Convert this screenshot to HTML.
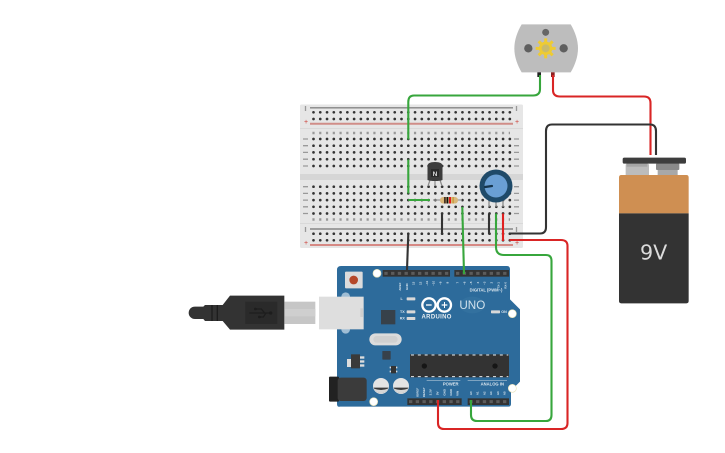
<!DOCTYPE html>
<html><head><meta charset="utf-8"><style>
html,body{margin:0;padding:0;background:#fff;width:725px;height:453px;overflow:hidden}
svg{display:block}
text{font-family:"Liberation Sans",sans-serif}
</style></head><body>
<svg width="725" height="453" viewBox="0 0 725 453" xmlns="http://www.w3.org/2000/svg">
<!-- Breadboard -->
<rect x="300" y="104.500" width="223" height="143.500" rx="1.500" fill="#e6e6e6"/>
<rect x="300" y="128" width="223" height="1" fill="#d9d9d9"/>
<rect x="300" y="223" width="223" height="1" fill="#d9d9d9"/>
<rect x="300" y="174" width="223" height="6" fill="#d6d6d6"/>
<line x1="310" y1="107.800" x2="513" y2="107.800" stroke="#858585" stroke-width="1.400"/>
<line x1="310" y1="123.800" x2="513" y2="123.800" stroke="#d08d88" stroke-width="2"/>
<line x1="310" y1="229" x2="513" y2="229" stroke="#858585" stroke-width="1.400"/>
<line x1="310" y1="245" x2="513" y2="245" stroke="#d06a64" stroke-width="1.400"/>
<g stroke="#333" stroke-width="2.700" stroke-linecap="round" fill="none" stroke-dasharray="0 6.770">
<line x1="313.500" y1="112.300" x2="510" y2="112.300"/>
<line x1="313.500" y1="119" x2="510" y2="119"/>
<line x1="313.500" y1="233.700" x2="510" y2="233.700"/>
<line x1="313.500" y1="240.300" x2="510" y2="240.300"/>
<line x1="313.500" y1="139" x2="510" y2="139"/>
<line x1="313.500" y1="145.700" x2="510" y2="145.700"/>
<line x1="313.500" y1="152.400" x2="510" y2="152.400"/>
<line x1="313.500" y1="159.200" x2="510" y2="159.200"/>
<line x1="313.500" y1="166" x2="510" y2="166"/>
<line x1="313.500" y1="186.700" x2="510" y2="186.700"/>
<line x1="313.500" y1="193.400" x2="510" y2="193.400"/>
<line x1="313.500" y1="200.100" x2="510" y2="200.100"/>
<line x1="313.500" y1="206.800" x2="510" y2="206.800"/>
<line x1="313.500" y1="213.500" x2="510" y2="213.500"/>
</g>
<!-- column / row tick labels -->
<g stroke="#999" stroke-width="2.600" fill="none" stroke-dasharray="2.200 4.570">
<line x1="312.400" y1="133" x2="510" y2="133"/>
<line x1="312.400" y1="219.500" x2="510" y2="219.500"/>
</g>
<g stroke="#999" stroke-width="1.300" fill="none">
<path d="M303 139H308M303 145.700H308M303 152.400H308M303 159.200H308M303 166H308M303 186.700H308M303 193.400H308M303 200.100H308M303 206.800H308M303 213.500H308"/>
<path d="M514 139H519M514 145.700H519M514 152.400H519M514 159.200H519M514 166H519M514 186.700H519M514 193.400H519M514 200.100H519M514 206.800H519M514 213.500H519"/>
<path d="M305.500 106V111M305.500 227V232M516.500 106V111M516.500 227V232"/>
</g>
<g fill="#cc3a33" font-size="7" text-anchor="middle">
<text x="306" y="124">+</text><text x="306" y="245">+</text><text x="517" y="124">+</text><text x="517" y="245">+</text>
</g>

<!-- Motor -->
<g transform="translate(505,15) scale(.33333)">
<path d="M50 28H197C210 50 219 75 219 100C219 125 210 150 197 172H50C37 150 28 125 28 100C28 75 37 50 50 28Z" fill="#bdbdbd"/>
<circle cx="70" cy="100" r="12.500" fill="#5f5f5f"/>
<circle cx="176" cy="100" r="12.500" fill="#5f5f5f"/>
<circle cx="122" cy="52" r="10.500" fill="#666"/>
<circle cx="122" cy="100" r="20" fill="#eecb33"/>
<g stroke="#eecb33" stroke-width="9">
<line x1="122" y1="70" x2="122" y2="130"/><line x1="92" y1="100" x2="152" y2="100"/>
<line x1="101" y1="79" x2="143" y2="121"/><line x1="143" y1="79" x2="101" y2="121"/>
</g>
<circle cx="122" cy="100" r="12" fill="#c9bb6c"/>
<rect x="97" y="172" width="11" height="14" fill="#222"/>
<rect x="138" y="172" width="11" height="14" fill="#8d2020"/>
</g>

<!-- Battery -->
<g transform="translate(610,145) scale(.33333)">
<rect x="47" y="55" width="70" height="40" rx="6" fill="#bcbcbc"/>
<rect x="50" y="55" width="62" height="10" fill="#a5a5a5"/>
<rect x="138" y="55" width="70" height="20" rx="3" fill="#8a8a8a"/>
<rect x="143" y="75" width="60" height="20" fill="#a8a8a8"/>
<rect x="38" y="38" width="190" height="18" rx="5" fill="#3d3d3d"/>
<path d="M27 205V97Q27 90 34 90H229Q236 90 236 97V205Z" fill="#cf8f52"/>
<path d="M27 205H236V468Q236 475 229 475H34Q27 475 27 468Z" fill="#333"/>
<text x="131" y="343" font-size="62" text-anchor="middle" fill="#dcdcdc" style="font-family:'DejaVu Sans',sans-serif">9V</text>
</g>

<!-- USB cable -->
<g transform="translate(180,285) scale(.33333)">
<rect x="313" y="50" width="93" height="67" fill="#c6c6c6"/>
<rect x="313" y="72" width="93" height="22" fill="#cfcfcf"/>
<path d="M45 65H70L75 60H128L150 32H313V134H150L128 108H75L70 102H45C33 102 26 92 26 84C26 74 33 65 45 65Z" fill="#333"/>
<rect x="196" y="50" width="96" height="67" fill="#2a2a2a"/>
<g stroke="#1d1d1d" stroke-width="4" fill="none">
<path d="M96 60V108M112 60V108"/>
<path d="M208 84H272M226 72H244L254 84M238 96H250L258 84"/>
</g>
<circle cx="272" cy="84" r="5" fill="#1d1d1d"/><circle cx="226" cy="72" r="4" fill="#1d1d1d"/><circle cx="238" cy="96" r="4" fill="#1d1d1d"/>
</g>

<!-- Arduino -->
<g transform="translate(325,260) scale(.33333)">
<path d="M36 30Q36 18 48 18H545Q555 18 555 28V118L585 148V365L558 392V432Q558 440 550 440H45Q36 442 36 432Z" fill="#2d6b9b"/>
<circle cx="156" cy="40" r="12" fill="#fff" stroke="#e8e2b8" stroke-width="2"/>
<circle cx="562" cy="161" r="12" fill="#fff" stroke="#e8e2b8" stroke-width="2"/>
<circle cx="562" cy="385" r="12" fill="#fff" stroke="#e8e2b8" stroke-width="2"/>
<circle cx="146" cy="425" r="12" fill="#fff" stroke="#e8e2b8" stroke-width="2"/>
<!-- headers -->
<g fill="#333">
<rect x="173" y="30" width="202" height="20"/>
<rect x="388" y="30" width="164" height="20"/>
<rect x="247" y="415" width="163" height="20"/>
<rect x="428" y="415" width="124" height="20"/>
</g>
<g stroke="#5c5c5c" stroke-width="9" fill="none" stroke-dasharray="10 10.200">
<line x1="178" y1="40" x2="375" y2="40"/>
<line x1="393" y1="40" x2="552" y2="40"/>
<line x1="252" y1="425" x2="410" y2="425"/>
<line x1="433" y1="425" x2="552" y2="425"/>
</g>
<!-- reset -->
<rect x="60" y="35" width="53" height="50" rx="3" fill="#dcdcdc"/>
<circle cx="86" cy="60" r="13" fill="#b5482a"/>
<!-- usb socket -->
<circle cx="62" cy="110" r="13" fill="#9fbdd4"/>
<circle cx="62" cy="208" r="13" fill="#9fbdd4"/>
<rect x="-18" y="110" width="134" height="98" fill="#dedede"/>
<rect x="106" y="145" width="8" height="26" fill="#cfcfcf"/>
<!-- logic parts -->
<rect x="168" y="150" width="43" height="43" fill="#37414a"/>
<rect x="133" y="220" width="97" height="36" rx="18" fill="#dcdcdc"/>
<rect x="145" y="228" width="73" height="20" rx="10" fill="#d0d0d0"/>
<rect x="172" y="273" width="25" height="26" rx="2" fill="#37414a"/>
<rect x="78" y="283" width="27" height="42" fill="#3a3a3a"/>
<rect x="66" y="297" width="12" height="24" fill="#ddd"/>
<g fill="#ddd"><rect x="105" y="289" width="13" height="7"/><rect x="105" y="301" width="13" height="7"/><rect x="105" y="313" width="13" height="7"/></g>
<rect x="198" y="318" width="15" height="22" fill="#333"/>
<g fill="#ddd"><rect x="194" y="320" width="4" height="5"/><rect x="194" y="332" width="4" height="5"/><rect x="213" y="320" width="4" height="5"/><rect x="213" y="332" width="4" height="5"/></g>
<!-- chip -->
<rect x="255" y="283" width="297" height="69" fill="#333"/>
<line x1="258" y1="285" x2="550" y2="285" stroke="#e8e8e8" stroke-width="3" stroke-dasharray="9 11.500"/>
<line x1="258" y1="350" x2="550" y2="350" stroke="#e8e8e8" stroke-width="3" stroke-dasharray="9 11.500"/>
<circle cx="298" cy="318" r="8" fill="#161616"/>
<circle cx="510" cy="318" r="8" fill="#161616"/>
<!-- caps -->
<circle cx="168" cy="378" r="24" fill="#e4e4e4"/>
<path d="M146 383A23 23 0 0 0 190 383Z" fill="#3a3a3a"/>
<path d="M147 386A23 23 0 0 0 189 386Q168 394 147 386Z" fill="#d6d6d6"/>
<circle cx="228" cy="378" r="24" fill="#e4e4e4"/>
<path d="M206 383A23 23 0 0 0 250 383Z" fill="#3a3a3a"/>
<path d="M207 386A23 23 0 0 0 249 386Q228 394 207 386Z" fill="#d6d6d6"/>
<!-- jack -->
<rect x="12" y="350" width="30" height="75" rx="3" fill="#222"/>
<rect x="38" y="353" width="87" height="70" rx="9" fill="#3b3b3b"/>
<!-- LEDs -->
<g fill="#d8d8d8">
<rect x="245" y="112" width="26" height="9" rx="2"/>
<rect x="245" y="151" width="26" height="9" rx="2"/>
<rect x="245" y="171" width="26" height="9" rx="2"/>
<rect x="498" y="151" width="27" height="9" rx="2"/>
</g>
<!-- Logo -->
<ellipse cx="442" cy="135" rx="38" ry="25" fill="#33719f"/>
<g fill="none" stroke="#fff" stroke-width="7">
<circle cx="312" cy="135" r="20"/><circle cx="358" cy="135" r="20"/>
</g>
<rect x="303" y="133" width="17" height="4" fill="#fff"/>
<path d="M350 133H357V126H360V133H367V137H360V144H357V137H350Z" fill="#fff"/>
<text x="335" y="176" font-size="18" font-weight="bold" fill="#e8eef3" text-anchor="middle" letter-spacing="1">ARDUINO</text>
<text x="442" y="147" font-size="35" fill="#cfe0ec" text-anchor="middle">UNO</text>
<g fill="#dce7ef" font-size="11" font-weight="bold">
<text x="230" y="120" text-anchor="middle">L</text>
<text x="232" y="159" text-anchor="middle">TX</text>
<text x="232" y="179" text-anchor="middle">RX</text>
<text x="537" y="159" text-anchor="middle">ON</text>
<text x="434" y="94" font-size="12.500">DIGITAL (PWM~)</text>
<text x="377" y="376" font-size="12.500" text-anchor="middle">POWER</text>
<text x="502" y="376" font-size="12.500" text-anchor="middle">ANALOG IN</text>
</g>
<g stroke="#cfdce6" stroke-width="1.500"><line x1="305" y1="362" x2="406" y2="362"/><line x1="428" y1="362" x2="546" y2="362"/></g>
<g fill="#dce7ef" font-size="9" font-weight="bold">
<text transform="translate(228,80) rotate(-90)" text-anchor="middle">AREF</text>
<text transform="translate(249,80) rotate(-90)" text-anchor="middle">GND</text>
<text transform="translate(269,70) rotate(-90)" text-anchor="middle">13</text>
<text transform="translate(289,70) rotate(-90)" text-anchor="middle">12</text>
<text transform="translate(309,70) rotate(-90)" text-anchor="middle">~11</text>
<text transform="translate(329,70) rotate(-90)" text-anchor="middle">~10</text>
<text transform="translate(350,70) rotate(-90)" text-anchor="middle">~9</text>
<text transform="translate(370,68) rotate(-90)" text-anchor="middle">8</text>
<text transform="translate(401,68) rotate(-90)" text-anchor="middle">7</text>
<text transform="translate(421,70) rotate(-90)" text-anchor="middle">~6</text>
<text transform="translate(441,70) rotate(-90)" text-anchor="middle">~5</text>
<text transform="translate(462,68) rotate(-90)" text-anchor="middle">4</text>
<text transform="translate(482,70) rotate(-90)" text-anchor="middle">~3</text>
<text transform="translate(502,68) rotate(-90)" text-anchor="middle">2</text>
<text transform="translate(523,76) rotate(-90)" text-anchor="middle">TX-1</text>
<text transform="translate(544,76) rotate(-90)" text-anchor="middle">RX-0</text>
<text transform="translate(280,397) rotate(-90)" text-anchor="middle">IOREF</text>
<text transform="translate(300,397) rotate(-90)" text-anchor="middle">RESET</text>
<text transform="translate(320,397) rotate(-90)" text-anchor="middle">3.3V</text>
<text transform="translate(340,400) rotate(-90)" text-anchor="middle">5V</text>
<text transform="translate(361,397) rotate(-90)" text-anchor="middle">GND</text>
<text transform="translate(381,397) rotate(-90)" text-anchor="middle">GND</text>
<text transform="translate(401,400) rotate(-90)" text-anchor="middle">VIN</text>
<text transform="translate(441,400) rotate(-90)" text-anchor="middle">A0</text>
<text transform="translate(461,400) rotate(-90)" text-anchor="middle">A1</text>
<text transform="translate(481,400) rotate(-90)" text-anchor="middle">A2</text>
<text transform="translate(501,400) rotate(-90)" text-anchor="middle">A3</text>
<text transform="translate(522,400) rotate(-90)" text-anchor="middle">A4</text>
<text transform="translate(542,400) rotate(-90)" text-anchor="middle">A5</text>
</g>
</g>

<!-- Transistor -->
<g stroke="#8b8b8b" stroke-width="1.200" fill="none"><path d="M430 180L428 186M435 180V186M440 180L442 186"/></g>
<path d="M427.500 180V166Q427.500 162 435 162Q442.500 162 442.500 166V180Q440 181 435 181Q430 181 427.500 180Z" fill="#3c3c3c"/>
<rect x="431" y="169" width="8" height="8" fill="#2a2a2a"/>
<text x="435" y="176" font-size="6.500" font-weight="bold" fill="#ddd" text-anchor="middle">N</text>

<!-- Resistor -->
<line x1="433" y1="200" x2="462" y2="200" stroke="#9a9a9a" stroke-width="1.300"/>
<rect x="440" y="197" width="18" height="6.500" rx="3" fill="#d9b77a"/>
<rect x="444" y="197" width="1.800" height="6.500" fill="#4a3524"/>
<rect x="446.500" y="197" width="1.800" height="6.500" fill="#111"/>
<rect x="449" y="197" width="2" height="6.500" fill="#e01b1b"/>
<rect x="452.500" y="197" width="1.300" height="6.500" fill="#c59a3a"/>

<!-- Potentiometer -->
<g stroke="#8b8b8b" stroke-width="1.300"><line x1="489" y1="200" x2="489" y2="207"/><line x1="496" y1="200" x2="496" y2="207"/><line x1="503" y1="200" x2="503" y2="207"/></g>
<circle cx="496" cy="186" r="16.500" fill="#1f4a69"/>
<circle cx="496" cy="186" r="11.500" fill="#6a9fd4"/>
<line x1="485" y1="187" x2="492" y2="186" stroke="#15344c" stroke-width="2.200" stroke-linecap="round"/>

<!-- Wires -->
<g fill="none" stroke-width="2.100" stroke-linejoin="round">
<path d="M540 75V89Q540 95.500 533 95.500H414Q408.300 95.500 408.300 102V139.500" stroke="#37a63c"/>
<path d="M408.300 159.500V193.500" stroke="#37a63c"/>
<path d="M408.300 200H430" stroke="#37a63c"/>
<path d="M462.300 207L464 274" stroke="#37a63c"/>
<path d="M496 213.500V247Q496 255 504 255H546Q551.500 255 551.500 261V415Q551.500 421 546 421H477Q471 421 471 415V400" stroke="#37a63c"/>
<path d="M553 75V90Q553 96.500 560 96.500H644Q650.500 96.500 650.500 103V155" stroke="#d92525"/>
<path d="M503 213.500V241" stroke="#e02020"/>
<path d="M509.500 240H561Q567.500 240 567.500 246V423Q567.500 429 561 429H444Q438 429 438 423V400" stroke="#d92525"/>
<path d="M509.500 233.500H540Q546 233.500 546 227V131Q546 124.500 552 124.500H650Q656 124.500 656 131V155" stroke="#333"/>
<path d="M442 213.500V234" stroke="#333"/>
<path d="M489 213.500V234" stroke="#333"/>
<path d="M408.300 233.500L407 270" stroke="#333"/>
</g>
</svg>
</body></html>
